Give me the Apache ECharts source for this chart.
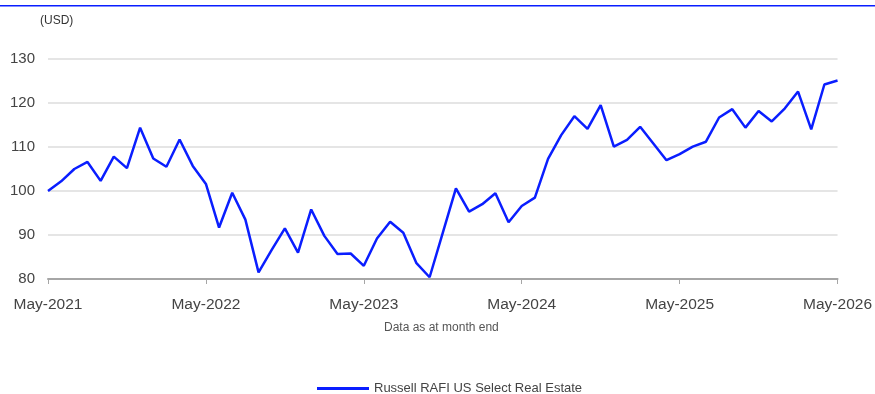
<!DOCTYPE html>
<html>
<head>
<meta charset="utf-8">
<script src="https://cdn.jsdelivr.net/npm/echarts@6/dist/echarts.min.js"></script>
<style>
html,body{margin:0;padding:0;background:#fff;}
#chart{width:875px;height:394px;}
</style>
</head>
<body>
<div id="chart"></div>
<script>
const months = ["Jan","Feb","Mar","Apr","May","Jun","Jul","Aug","Sep","Oct","Nov","Dec"];
const categories = [];
for (let y = 2021; y <= 2026; y++) {
  for (let m = 0; m < 12; m++) {
    if ((y === 2021 && m < 4) || (y === 2026 && m > 4)) continue;
    categories.push(months[m] + "-" + y);
  }
}
const seriesName = "Russell RAFI US Select Real Estate";
const values = [
  100.0, 102.2, 105.0, 106.6, 102.3, 107.8, 105.2, 114.4, 107.4, 105.5, 111.7, 105.7,
  101.6, 91.7, 99.6, 93.5, 81.5, 86.6, 91.5, 86.0, 95.8, 89.8, 85.7, 85.8,
  83.0, 89.2, 93.0, 90.5, 83.6, 80.4, 90.5, 100.6, 95.3, 97.0, 99.5, 92.9,
  96.6, 98.5, 107.3, 112.7, 117.0, 114.1, 119.5, 110.1, 111.6, 114.6, 110.8, 107.0,
  108.4, 110.1, 111.2, 116.7, 118.6, 114.4, 118.2, 115.8, 118.8, 122.6, 114.0, 124.2,
  125.1
];
const yTicks = { min: 80, max: 130, interval: 10 };
const unitLabel = "(USD)";
const footnote = "Data as at month end";

const chart = echarts.init(document.getElementById('chart'), null, { renderer: 'canvas' });
chart.setOption({
  animation: false,
  textStyle: { fontFamily: 'Liberation Sans, Arial, sans-serif' },
  grid: { left: 48, right: 37, top: 59, bottom: 115, containLabel: false },
  graphic: [
    { type: 'rect', shape: { x: 0, y: 5, width: 875, height: 1.5 }, style: { fill: '#0a1eff' } },
    { type: 'text', left: 40, top: 15, style: { text: unitLabel, fill: '#333', font: '12px Liberation Sans, Arial, sans-serif' } },
    { type: 'text', left: 384, top: 322, style: { text: footnote, fill: '#555', font: '12px Liberation Sans, Arial, sans-serif' } }
  ],
  legend: {
    top: 382,
    left: 317,
    padding: 0,
    itemWidth: 52,
    itemHeight: 3,
    icon: 'rect',
    textStyle: { color: '#444', fontSize: 13, fontFamily: 'Liberation Sans, Arial, sans-serif' },
    data: [seriesName]
  },
  xAxis: {
    type: 'category',
    data: categories,
    boundaryGap: false,
    axisLine: { lineStyle: { color: '#a6a6a6', width: 2 } },
    axisTick: { show: true, interval: 11, length: 5, lineStyle: { color: '#a6a6a6', width: 1 } },
    axisLabel: { interval: 11, color: '#444', fontSize: 15.5, margin: 18 },
    splitLine: { show: false }
  },
  yAxis: {
    type: 'value',
    min: yTicks.min, max: yTicks.max, interval: yTicks.interval,
    axisLine: { show: false },
    axisTick: { show: false },
    axisLabel: { color: '#444', fontSize: 15, margin: 13 },
    splitLine: { lineStyle: { color: '#dcdcdc', width: 1.5 } }
  },
  series: [{
    name: seriesName,
    type: 'line',
    data: values,
    symbol: 'none',
    lineStyle: { color: '#0a1eff', width: 2.5 },
    itemStyle: { color: '#0a1eff' }
  }]
});
</script>
</body>
</html>
